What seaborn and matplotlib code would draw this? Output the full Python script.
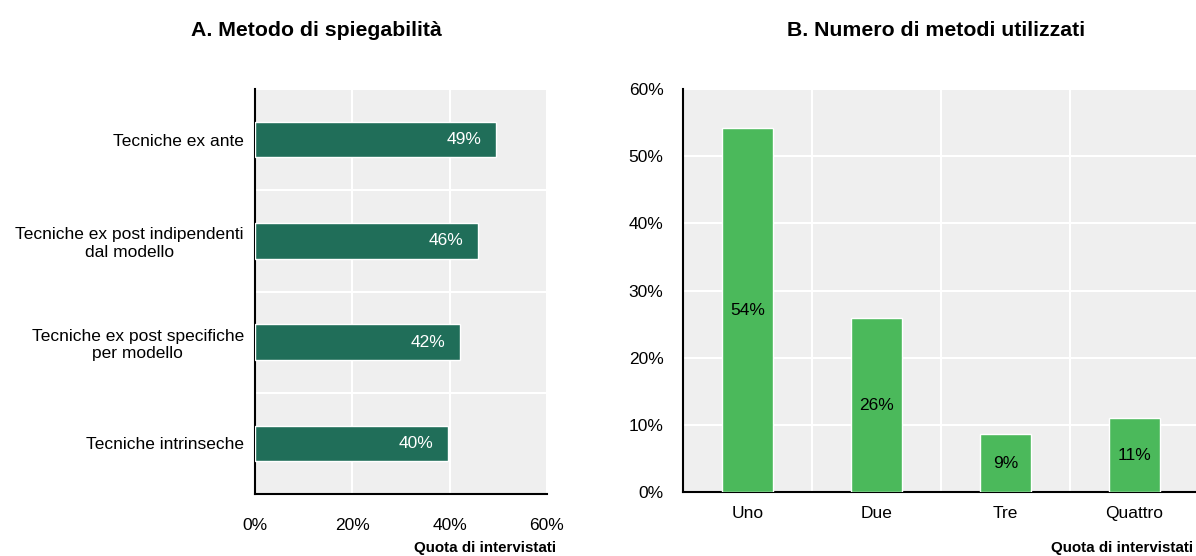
import matplotlib
matplotlib.use("Agg")
import matplotlib.pyplot as plt
import seaborn as sns
from matplotlib.ticker import FixedLocator, PercentFormatter

# Daten
metodi = ["Tecniche ex ante",
          "Tecniche ex post indipendenti\ndal modello",
          "Tecniche ex post specifiche\nper modello",
          "Tecniche intrinseche"]
quote_metodi = [49.5, 45.8, 42.1, 39.6]
etichette_metodi = ["49%", "46%", "42%", "40%"]

numero = ["Uno", "Due", "Tre", "Quattro"]
quote_numero = [54.2, 25.9, 8.6, 11.0]
etichette_numero = ["54%", "26%", "9%", "11%"]

sns.set_style("white", {"axes.facecolor": "#efefef"})
plt.rcParams["font.family"] = ["Liberation Sans", "DejaVu Sans"]
fs = 12.5

fig = plt.figure(figsize=(11.96, 5.56), dpi=100)
ax1 = fig.add_axes([0.2132, 0.1115, 0.2441, 0.7284])
ax2 = fig.add_axes([0.571, 0.115, 0.4314, 0.7248])

# Pannello A
sns.barplot(x=quote_metodi, y=metodi, orient="h", color="#206e59",
            width=0.35, saturation=1, ax=ax1, zorder=3)
ax1.set_xlim(0, 60)
ax1.set_ylim(3.5, -0.5)
ax1.xaxis.set_major_locator(FixedLocator([0, 20, 40, 60]))
ax1.xaxis.set_major_formatter(PercentFormatter(decimals=0))
ax1.yaxis.set_minor_locator(FixedLocator([-0.5, 0.5, 1.5, 2.5]))
ax1.tick_params(axis="y", which="major", length=0, labelsize=fs, pad=8, colors="black")
ax1.tick_params(axis="y", which="minor", direction="in", length=5, width=1.2)
ax1.tick_params(axis="x", direction="in", length=5, width=1.2, labelsize=fs, pad=17, colors="black")
for lab in ax1.get_yticklabels():
    lab.set_multialignment("center")
ax1.grid(True, axis="x", which="major", color="white", lw=1.5, zorder=0)
ax1.grid(True, axis="y", which="minor", color="white", lw=1.5, zorder=0)
for i, (v, t) in enumerate(zip(quote_metodi, etichette_metodi)):
    ax1.annotate(t, (v, i), xytext=(-14, 0), textcoords="offset pixels",
                 ha="right", va="center", color="white", fontsize=fs, zorder=4)
ax1.set_xlabel("")
ax1.set_ylabel("")

# Pannello B
sns.barplot(x=numero, y=quote_numero, color="#4bb95b", width=0.4,
            saturation=1, ax=ax2, zorder=3)
ax2.set_ylim(0, 60)
ax2.set_xlim(-0.5, 3.5)
ax2.yaxis.set_major_locator(FixedLocator([0, 10, 20, 30, 40, 50, 60]))
ax2.yaxis.set_major_formatter(PercentFormatter(decimals=0))
ax2.xaxis.set_minor_locator(FixedLocator([0.5, 1.5, 2.5, 3.5]))
ax2.tick_params(axis="x", which="major", length=0, labelsize=fs, pad=10, colors="black")
ax2.tick_params(axis="x", which="minor", direction="in", length=5, width=1.2)
ax2.tick_params(axis="y", direction="in", length=5, width=1.2, labelsize=fs, pad=14, colors="black")
ax2.grid(True, axis="y", which="major", color="white", lw=1.5, zorder=0)
ax2.grid(True, axis="x", which="minor", color="white", lw=1.5, zorder=0)
for i, (v, t) in enumerate(zip(quote_numero, etichette_numero)):
    ax2.text(i, v / 2, t, ha="center", va="center", color="black",
             fontsize=fs, zorder=4)
ax2.set_xlabel("")
ax2.set_ylabel("")

for ax in (ax1, ax2):
    sns.despine(ax=ax)
    for s in ("left", "bottom"):
        ax.spines[s].set_color("black")
        ax.spines[s].set_linewidth(1.5)
    ax.set_axisbelow(True)

titolo = dict(fontsize=15.3, fontweight="bold", color="black")
fig.text(316 / 1196, 1 - 30 / 556, "A. Metodo di spiegabilità", ha="center", va="center", **titolo)
fig.text(936 / 1196, 1 - 30 / 556, "B. Numero di metodi utilizzati", ha="center", va="center", **titolo)
nota = dict(fontsize=10.9, fontweight="bold", color="black")
fig.text(556 / 1196, 1 - 548 / 556, "Quota di intervistati", ha="right", va="center", **nota)
fig.text(1193 / 1196, 1 - 548 / 556, "Quota di intervistati", ha="right", va="center", **nota)

fig.savefig("out.png", dpi=100, facecolor="white")
